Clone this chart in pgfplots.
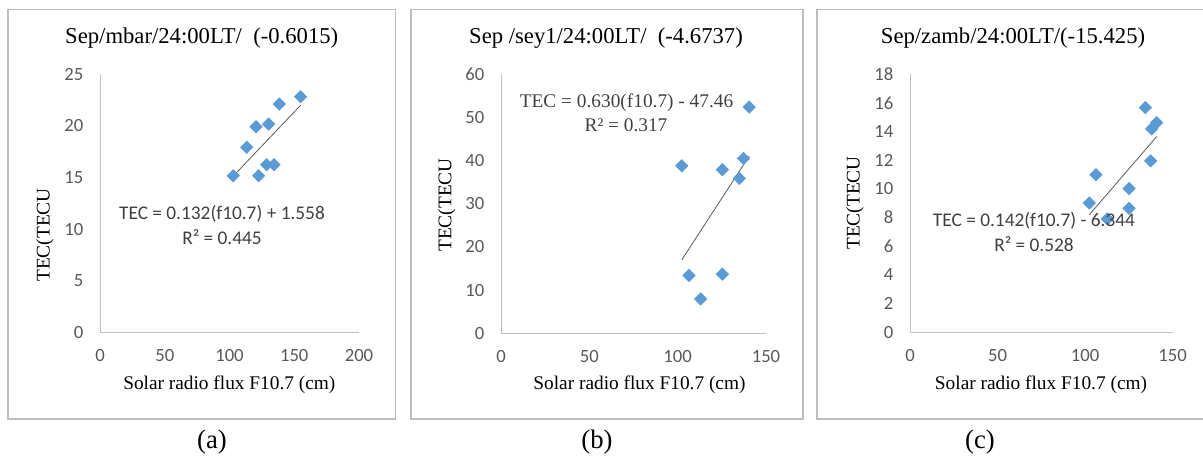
\documentclass[border=0pt]{standalone}
\usepackage{pgfplots}
\pgfplotsset{compat=1.18}
\usepackage{fontspec}
\setmainfont{Liberation Serif}
\newfontfamily\carlito{Carlito}
\definecolor{mblue}{HTML}{5B9BD5}
\definecolor{tickgray}{HTML}{595959}
\definecolor{axgray}{HTML}{BFBFBF}
\definecolor{framegray}{HTML}{BDBDBD}
\definecolor{trendgray}{HTML}{404040}
\definecolor{linegray}{HTML}{595959}

\pgfplotsset{
  panel/.style={
    scale only axis, anchor=south west, clip=false,
    axis x line*=bottom, axis y line*=left,
    axis line style={axgray, line width=0.75pt},
    enlargelimits=false,
    major tick length=0pt, tick style={draw=none},
    ticklabel style={font=\carlito\fontsize{14}{16}\selectfont, text=tickgray},
    /pgf/number format/assume math mode=true,
    xticklabel style={yshift=-9pt},
    yticklabel style={xshift=-9pt},
    xmin=0, ymin=0,
  },
  pts/.style={only marks, mark=square*, mark size=3.3pt,
    mark options={rotate=45, fill=mblue, draw=mblue}},
  trend/.style={linegray, line width=0.6pt, no marks},
}

\pgfplotstableread{
x y
102.9 15.17
113.3 17.93
120.5 19.92
130.2 20.18
138.5 22.12
154.9 22.83
122.5 15.17
128.7 16.24
134.4 16.24
}\dataA

\pgfplotstableread{
x y
102.3 38.8
106.4 13.4
113.0 7.95
125.3 37.9
125.3 13.7
134.9 35.9
137.3 40.5
140.5 52.4
}\dataB

\pgfplotstableread{
x y
102.4 9.02
106.2 11.0
112.7 7.91
125.1 10.03
125.1 8.65
134.4 15.68
137.4 11.96
138.0 14.19
140.9 14.63
}\dataC

\begin{document}
\begin{tikzpicture}
\path[use as bounding box] (0,0) rectangle (902.25pt,-342.75pt);
% frames
\draw[framegray, line width=1.3pt] (6.225pt,-7.125pt) rectangle (296.625pt,-314.1pt);
\draw[framegray, line width=1.3pt] (308.025pt,-7.125pt) rectangle (602.025pt,-314.1pt);
\draw[framegray, line width=1.3pt] (612.975pt,-7.125pt) rectangle (910pt,-314.1pt);

% panel a
\begin{axis}[panel, at={(75pt,-249.225pt)}, width=194.25pt, height=193.5pt,
  xmax=200, ymax=25, xtick={0,50,100,150,200}, ytick={0,5,10,15,20,25}]
\addplot[pts] table {\dataA};
\addplot[trend] coordinates {(102.9,15.14) (154.9,22.00)};
\end{axis}

% panel b
\begin{axis}[panel, at={(375.75pt,-249.975pt)}, width=198.75pt, height=194.25pt,
  xmax=150, ymax=60, xtick={0,50,100,150}, ytick={0,10,20,30,40,50,60}]
\addplot[pts] table {\dataB};
\addplot[trend] coordinates {(102.3,16.99) (140.5,41.06)};
\end{axis}

% panel c
\begin{axis}[panel, at={(682.5pt,-249.225pt)}, width=197pt, height=193.5pt,
  xmax=150, ymax=18, xtick={0,50,100,150}, ytick={0,2,4,6,8,10,12,14,16,18}]
\addplot[pts] table {\dataC};
\addplot[trend] coordinates {(102.4,8.20) (140.9,13.66)};
\end{axis}

% titles
\begin{scope}[every node/.style={font=\fontsize{17}{20}\selectfont, inner sep=0pt}]
\node at (151.3pt,-28.5pt) {Sep/mbar/24:00LT/\ \ (-0.6015)};
\node at (454.5pt,-28.5pt) {Sep /sey1/24:00LT/\ \ (-4.6737)};
\node at (759.75pt,-28.5pt) {Sep/zamb/24:00LT/(-15.425)};
\end{scope}

% axis labels
\begin{scope}[every node/.style={font=\fontsize{14.5}{17}\selectfont, inner sep=0pt}]
\node at (172pt,-288.75pt) {Solar radio flux F10.7 (cm)};
\node at (479.6pt,-288.75pt) {Solar radio flux F10.7 (cm)};
\node at (780.75pt,-288.75pt) {Solar radio flux F10.7 (cm)};
\node[rotate=90] at (33.75pt,-176.25pt) {TEC(TECU};
\node[rotate=90] at (335pt,-153.75pt) {TEC(TECU};
\node[rotate=90] at (641.25pt,-152.25pt) {TEC(TECU};
\end{scope}

% trendline labels
\begin{scope}[every node/.style={font=\carlito\fontsize{14.5}{17}\selectfont, text=trendgray, inner sep=0pt}]
\node at (166.5pt,-160.5pt) {TEC = 0.132(f10.7) + 1.558};
\node at (166.5pt,-177.75pt) {R² = 0.445};
\node at (775.5pt,-165.75pt) {TEC = 0.142(f10.7) - 6.344};
\node at (775.5pt,-183pt) {R² = 0.528};
\end{scope}
\begin{scope}[every node/.style={font=\fontsize{14.5}{17}\selectfont, text=trendgray, inner sep=0pt}]
\node at (469.9pt,-77.25pt) {TEC = 0.630(f10.7) - 47.46};
\node at (469.5pt,-93.75pt) {R² = 0.317};
\end{scope}

% captions
\begin{scope}[every node/.style={font=\fontsize{20}{24}\selectfont, inner sep=0pt}]
\node at (159pt,-331.5pt) {(a)};
\node at (447.75pt,-331.5pt) {(b)};
\node at (735pt,-331.5pt) {(c)};
\end{scope}
\end{tikzpicture}
\end{document}
